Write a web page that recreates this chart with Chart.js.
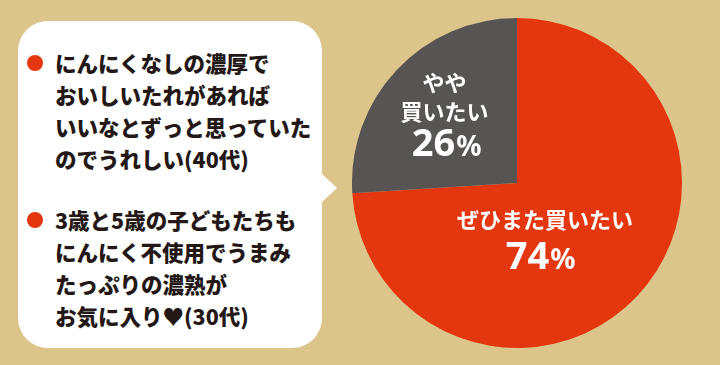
<!DOCTYPE html>
<html>
<head>
<meta charset="utf-8">
<script src="https://cdn.jsdelivr.net/npm/chart.js@4/dist/chart.umd.min.js"></script>
<style>
	html, body {
		margin: 0;
		padding: 0;
		width: 720px;
		height: 365px;
		background: #dcc58a;
		overflow: hidden;
		font-family: "Noto Sans CJK JP", sans-serif;
	}
	.bubble {
		position: absolute;
		left: 18px;
		top: 21px;
		width: 304px;
		height: 327px;
		background: #fff;
		border-radius: 30px;
	}
	.bubble::after {
		content: "";
		position: absolute;
		left: 303px;
		top: 152px;
		border-top: 15px solid transparent;
		border-bottom: 15px solid transparent;
		border-left: 16px solid #fff;
	}
	.comment {
		position: absolute;
		left: 37px;
		font-size: 21.5px;
		font-weight: 900;
		line-height: 32px;
		color: #231815;
		white-space: nowrap;
	}
	.comment::before {
		content: "";
		position: absolute;
		left: -28px;
		top: 8px;
		width: 16px;
		height: 16px;
		border-radius: 50%;
		background: #e4370f;
	}
	#pieBox {
		position: absolute;
		left: 352px;
		top: 18px;
		width: 330px;
		height: 330px;
	}
</style>
</head>
<body>
<div class="bubble">
	<div class="comment" id="c0" style="top: 26px;"></div>
	<div class="comment" id="c1" style="top: 183px;"></div>
</div>
<div id="pieBox"><canvas id="pie"></canvas></div>
<script>
// data
const labels = ["ぜひまた買いたい", "やや\n買いたい"];
const values = [74, 26];
const colors = ["#e4370f", "#585453"];

// comments
const comments = [
	["にんにくなしの濃厚で", "おいしいたれがあれば", "いいなとずっと思っていた", "のでうれしい(40代)"],
	["3歳と5歳の子どもたちも", "にんにく不使用でうまみ", "たっぷりの濃熟が", "お気に入り♥(30代)"],
];

comments.forEach((lines, i) => {
	document.getElementById("c" + i).innerHTML = lines.join("<br>");
});

// label positions (fraction of radius from centre, dy = last text line)
const labelPos = [
	{ dx: 0.17, dy: 0.225, pdx: 0.14, pdy: 0.44 },
	{ dx: -0.44, dy: -0.43, pdx: -0.43, pdy: -0.245 },
];

const sliceLabels = {
	id: "sliceLabels",
	afterDatasetsDraw(chart) {
		const ctx = chart.ctx;
		const arcs = chart.getDatasetMeta(0).data;
		ctx.save();
		ctx.fillStyle = "#fff";
		arcs.forEach((arc, i) => {
			const r = arc.outerRadius;
			const p = labelPos[i];
			const lines = labels[i].split("\n");
			ctx.textAlign = "center";
			ctx.textBaseline = "middle";
			ctx.font = "700 22px 'Noto Sans CJK JP'";
			let y = arc.y + p.dy * r - (lines.length - 1) * 29;
			lines.forEach((line, j) => {
				ctx.fillText(line, arc.x + p.dx * r, y + j * 29);
			});
			// percent
			const num = String(values[i]);
			ctx.font = "700 38px 'Noto Sans'";
			const wNum = ctx.measureText(num).width;
			ctx.font = "700 28px 'Noto Sans'";
			const wPct = ctx.measureText("%").width;
			const x0 = arc.x + p.pdx * r - (wNum + wPct) / 2;
			const yp = arc.y + p.pdy * r;
			ctx.textAlign = "left";
			ctx.textBaseline = "alphabetic";
			ctx.font = "700 38px 'Noto Sans'";
			ctx.fillText(num, x0, yp + 13);
			ctx.font = "700 28px 'Noto Sans'";
			ctx.fillText("%", x0 + wNum + 1, yp + 13);
		});
		ctx.restore();
	},
};

new Chart(document.getElementById("pie").getContext("2d"), {
	type: "pie",
	data: {
		labels: labels,
		datasets: [
			{
				data: values,
				backgroundColor: colors,
				borderWidth: 0,
			},
		],
	},
	options: {
		responsive: true,
		maintainAspectRatio: false,
		animation: false,
		layout: { padding: 0 },
		plugins: {
			legend: { display: false },
			tooltip: { enabled: false },
		},
	},
	plugins: [sliceLabels],
});
</script>
</body>
</html>
